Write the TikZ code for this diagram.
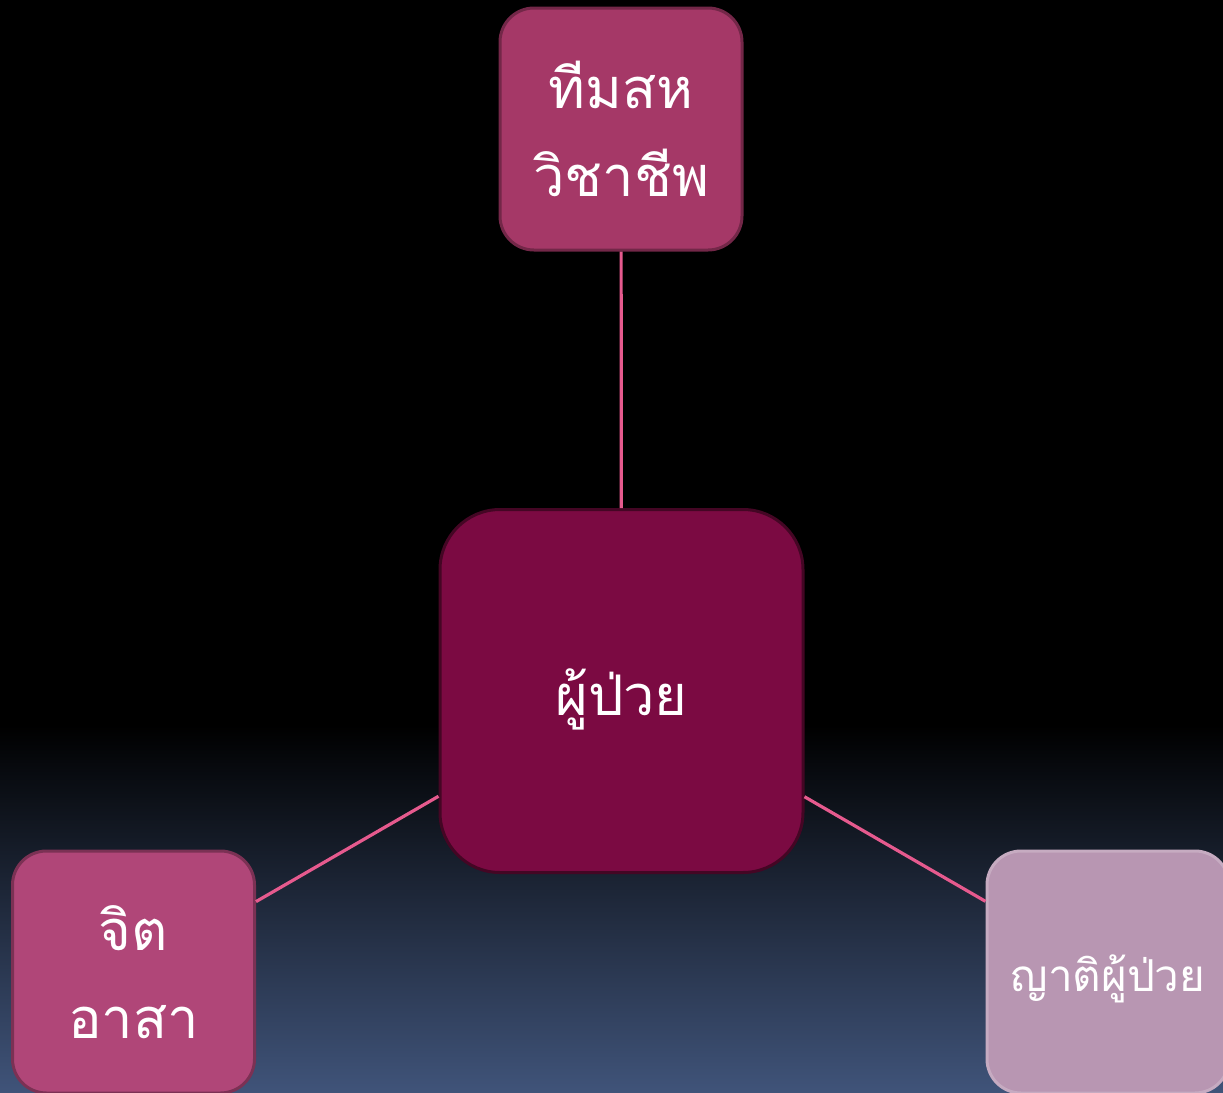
\documentclass[tikz,border=0pt]{standalone}
\usepackage{fontspec}
\newfontfamily\thaifont[Script=Thai]{Loma}
\definecolor{bgbot}{RGB}{64,84,122}
\definecolor{linec}{RGB}{230,90,142}
\definecolor{topc}{RGB}{165,56,103}
\definecolor{cenc}{RGB}{123,10,66}
\definecolor{leftc}{RGB}{176,70,120}
\definecolor{rightc}{RGB}{184,150,178}
\begin{document}
\begin{tikzpicture}[x=0.5pt,y=-0.5pt,
  box/.style={rectangle, rounded corners=17pt, minimum width=121pt, minimum height=121pt,
    inner sep=0pt, align=center, text=white, font=\thaifont\fontsize{28}{44}\selectfont,
    line width=1.5pt},
  link/.style={draw=linec, line width=1.6pt}]
\useasboundingbox (0,0) rectangle (1223,1093);
\clip (0,0) rectangle (1223,1093);
\fill[black] (0,0) rectangle (1223,1093);
\shade[top color=black, bottom color=bgbot] (0,725) rectangle (1223,1094);
\node[box, fill=topc, draw=topc!70!black] (top) at (621,129) {ทีมสห\\วิชาชีพ};
\node[box, fill=cenc, draw=cenc!55!black, minimum width=181.5pt, minimum height=181.5pt, rounded corners=30pt, text depth=0pt, text height=24pt] (cen) at (621.5,691) {ผู้ป่วย};
\node[box, fill=leftc, draw=leftc!70!black] (left) at (133.5,972) {จิต\\อาสา};
\node[box, fill=rightc, draw=rightc!80!white, font=\thaifont\fontsize{22}{30}\selectfont, text depth=0pt, text height=19pt] (right) at (1108,972) {ญาติผู้ป่วย};
\draw[link] (top) -- (cen);
\draw[link] (cen) -- (left);
\draw[link] (cen) -- (right);
\end{tikzpicture}
\end{document}
